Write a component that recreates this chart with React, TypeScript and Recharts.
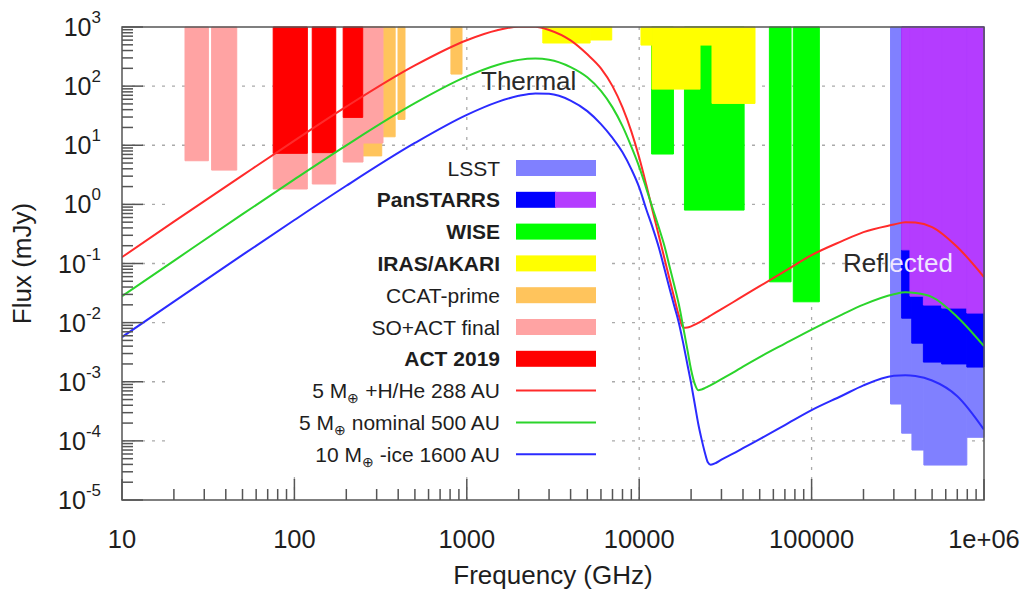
import React from 'react';
import { ComposedChart, Line, XAxis, YAxis, ReferenceArea, ReferenceLine } from 'recharts';

// model curves (GHz -> mJy)
const thermalFreq = [
  10, 20, 50, 100, 200, 500, 1000, 1500, 2000, 2500, 3000, 4000, 5000, 6000, 7000, 8000, 9000, 10000,
  11000, 12000, 13000, 14000, 15000, 16000, 17000, 18000, 19000, 20000, 21000, 22000, 23000, 24000,
  25000, 26000, 28000, 30000, 35000, 40000, 50000, 70000, 100000, 150000, 200000, 300000, 350000, 400000,
  500000, 700000, 1000000,
];
const fluxHHe = [
  0.128, 0.51, 3.1, 12, 45, 224, 597, 880, 1010, 1010, 890, 593, 345, 200, 100, 43.6, 17.2, 6.2,
  2.12, 0.75, 0.295, 0.123, 0.054, 0.0255, 0.013, 0.0082, 0.00826, 0.00865, 0.00922, 0.00989, 0.01065, 0.01146,
  0.0123, 0.01319, 0.015, 0.0169, 0.0221, 0.028, 0.0413, 0.0743, 0.1387, 0.239, 0.34, 0.455, 0.5, 0.492,
  0.413, 0.19, 0.059,
];
const fluxNominal = [
  0.028, 0.111, 0.683, 2.65, 9.97, 51.5, 146, 228, 278, 292, 280, 210, 141, 83, 43.7, 21.1, 9.5, 4.31,
  1.85, 0.836, 0.406, 0.2, 0.0889, 0.042, 0.02, 0.0084, 0.0036, 0.0016, 0.00092, 0.00072, 0.000741, 0.00078,
  0.000827, 0.000875, 0.000984, 0.001106, 0.001425, 0.0018, 0.00261, 0.00441, 0.00762, 0.01365, 0.0201, 0.0301, 0.0325, 0.0316,
  0.027, 0.0125, 0.004,
];
const fluxIce = [
  0.0057, 0.0227, 0.1395, 0.5435, 2.063, 10.93, 32.7, 53.7, 68.5, 75.3, 74, 57, 37.8, 22.8, 13.3, 7.6, 3.95, 1.94,
  0.82, 0.393, 0.187, 0.082, 0.0376, 0.0188, 0.0098, 0.0045, 0.00202, 0.00094, 0.00042, 0.000195, 0.000107, 0.0000644,
  0.0000436, 0.0000396, 0.0000427, 0.0000481, 0.0000607, 0.0000752, 0.000107, 0.000185, 0.000331, 0.00058, 0.00087, 0.00126, 0.00129, 0.00125,
  0.00105, 0.00057, 0.000155,
];

// survey sensitivity bands: low edge, high edge (GHz), flux limit (mJy); each band reaches the top
const lsstLo = [287000, 333000, 382000, 448000, 795000];
const lsstHi = [333000, 382000, 448000, 795000, 1000000];
const lsstFlux = [4.2e-4, 1.35e-4, 7.0e-5, 3.9e-5, 1.15e-4];

const psDeepLo = [333000, 381000, 445000, 568000, 795000];
const psDeepHi = [381000, 445000, 568000, 795000, 1000000];
const psDeepFlux = [0.0119, 0.0045, 0.00215, 0.002, 0.00177];

const ps3piLo = [333000, 372000, 445000, 568000, 795000];
const ps3piHi = [372000, 445000, 568000, 795000, 1000000];
const ps3piFlux = [0.17, 0.028, 0.0198, 0.0176, 0.0145];

const wiseLo = [11800, 18300, 56900, 78300];
const wiseHi = [15800, 40600, 76000, 110900];
const wiseFlux = [7.1, 0.8, 0.049, 0.0225];

const irasLo = [2760, 5190, 10240, 11870, 22530, 26440];
const irasHi = [5190, 6930, 11870, 22530, 26440, 46960];
const irasFlux = [536, 603, 495, 89, 495, 51];

const ccatLo = [246, 327, 399, 809];
const ccatHi = [321, 384, 438, 938];
const ccatFlux = [6.6, 13.9, 27.4, 160];

const soLo = [23.2, 33.1, 75.4, 127, 192, 250];
const soHi = [31.7, 46.3, 118.8, 173.6, 250, 326.5];
const soFlux = [5.47, 3.8, 1.82, 2.21, 5.2, 10.9];

const actLo = [75.4, 127, 192];
const actHi = [118.8, 173.6, 249];
const actFlux = [7.3, 7.5, 29.6];

const freqDecades = [10, 100, 1000, 10000, 100000, 1000000];
const freqTickLabels = ['10', '100', '1000', '10000', '100000', '1e+06'];
const fluxDecades = [1e-5, 1e-4, 1e-3, 1e-2, 1e-1, 1, 10, 100, 1000];
const fluxTickExponents = ['-5', '-4', '-3', '-2', '-1', '0', '1', '2', '3'];

const FONT = '"Liberation Sans", Arial, Helvetica, sans-serif';
const AXIS = '#555';
const TEXT = '#1e1e1e';
const GRID = '#aaa';

const COLORS = {
  lsst: '#8080ff',
  psDeep: '#0000ff',
  ps3pi: '#b43cff',
  wise: '#00ff00',
  iras: '#ffff00',
  ccat: '#ffc45c',
  so: '#ffa3a3',
  act: '#ff0000',
  hhe: '#ff2b2b',
  nominal: '#2bd42b',
  ice: '#2b2bff',
};

// drawn bottom to top
const bandGroups = [
  { id: 'lsst', lo: lsstLo, hi: lsstHi, flux: lsstFlux, color: COLORS.lsst },
  { id: 'psdeep', lo: psDeepLo, hi: psDeepHi, flux: psDeepFlux, color: COLORS.psDeep },
  { id: 'ps3pi', lo: ps3piLo, hi: ps3piHi, flux: ps3piFlux, color: COLORS.ps3pi },
  { id: 'wise', lo: wiseLo, hi: wiseHi, flux: wiseFlux, color: COLORS.wise },
  { id: 'iras', lo: irasLo, hi: irasHi, flux: irasFlux, color: COLORS.iras },
  { id: 'ccat', lo: ccatLo, hi: ccatHi, flux: ccatFlux, color: COLORS.ccat },
  { id: 'so', lo: soLo, hi: soHi, flux: soFlux, color: COLORS.so },
  { id: 'act', lo: actLo, hi: actHi, flux: actFlux, color: COLORS.act },
];

const legendBands = [
  { label: 'LSST', bold: false, fills: [COLORS.lsst] },
  { label: 'PanSTARRS', bold: true, fills: [COLORS.psDeep, COLORS.ps3pi] },
  { label: 'WISE', bold: true, fills: [COLORS.wise] },
  { label: 'IRAS/AKARI', bold: true, fills: [COLORS.iras] },
  { label: 'CCAT-prime', bold: false, fills: [COLORS.ccat] },
  { label: 'SO+ACT final', bold: false, fills: [COLORS.so] },
  { label: 'ACT 2019', bold: true, fills: [COLORS.act] },
];
const legendLines = [
  { pre: '5 M', post: ' +H/He 288 AU', color: COLORS.hhe },
  { pre: '5 M', post: ' nominal 500 AU', color: COLORS.nominal },
  { pre: '10 M', post: ' -ice 1600 AU', color: COLORS.ice },
];

const withMinors = (decades: number[]) =>
  decades.flatMap((d, i) => (i === decades.length - 1 ? [d] : [1, 2, 3, 4, 5, 6, 7, 8, 9].map((m) => m * d)));
const freqTicks = withMinors(freqDecades);
const fluxTicks = withMinors(fluxDecades);

const isDecade = (v: number) => {
  const l = Math.log10(v);
  return Math.abs(l - Math.round(l)) < 1e-6;
};

const BottomTick = ({ x, y, payload }: any) => {
  const v = payload.value;
  const major = isDecade(v);
  return (
    <g>
      <line x1={x} y1={y} x2={x} y2={y - (major ? 21 : 11)} stroke={AXIS} strokeWidth={1.5} />
      {major && (
        <text x={x} y={y + 48} textAnchor="middle" fontSize={25.5} fill={TEXT} fontFamily={FONT}>
          {freqTickLabels[Math.round(Math.log10(v)) - 1]}
        </text>
      )}
    </g>
  );
};

const TopTick = ({ x, y, payload }: any) => (
  <line x1={x} y1={y} x2={x} y2={y + (isDecade(payload.value) ? 21 : 11)} stroke={AXIS} strokeWidth={1.5} />
);

const LeftTick = ({ x, y, payload }: any) => {
  const v = payload.value;
  const major = isDecade(v);
  return (
    <g>
      <line x1={x} y1={y} x2={x + (major ? 21 : 11)} y2={y} stroke={AXIS} strokeWidth={1.5} />
      {major && (
        <text x={x - 21} y={y + 9} textAnchor="end" fontSize={25} fill={TEXT} fontFamily={FONT}>
          <tspan>10</tspan>
          <tspan dy={-13} fontSize={17}>
            {fluxTickExponents[Math.round(Math.log10(v)) + 5]}
          </tspan>
        </text>
      )}
    </g>
  );
};

const RightTick = ({ x, y, payload }: any) => (
  <line x1={x} y1={y} x2={x - (isDecade(payload.value) ? 21 : 11)} y2={y} stroke={AXIS} strokeWidth={1.5} />
);

const Overlay = () => {
  const rowY = (i: number) => 168 + i * 31.8;
  return (
    <svg
      width={1025}
      height={596}
      style={{ position: 'absolute', left: 0, top: 0, pointerEvents: 'none' }}
      fontFamily={FONT}
    >
      <text x={553} y={584} textAnchor="middle" fontSize={26} fill={TEXT}>
        Frequency (GHz)
      </text>
      <text x={31} y={263.5} textAnchor="middle" fontSize={26} fill={TEXT} transform="rotate(-90 31 263.5)">
        Flux (mJy)
      </text>
      <text x={481} y={90} fontSize={26} fill="#2a2a2a">
        Thermal
      </text>
      <text x={843} y={272} fontSize={26}>
        <tspan fill="#2a2a2a">Refl</tspan>
        <tspan fill="#efe6ff">ected</tspan>
      </text>

      {legendBands.map((e, i) => (
        <g key={e.label}>
          <text x={500} y={rowY(i) + 7.5} textAnchor="end" fontSize={21} fontWeight={e.bold ? 'bold' : 'normal'} fill={TEXT}>
            {e.label}
          </text>
          {e.fills.map((c, k) => (
            <rect
              key={c}
              x={516 + (k * 80) / e.fills.length + (e.fills.length > 1 && k > 0 ? -1 : 0)}
              y={rowY(i) - 8}
              width={80 / e.fills.length + (e.fills.length > 1 && k > 0 ? 1 : 0)}
              height={16}
              fill={c}
            />
          ))}
        </g>
      ))}
      {legendLines.map((e, j) => {
        const y = rowY(legendBands.length + j);
        return (
          <g key={e.post}>
            <text x={500} y={y + 7.5} textAnchor="end" fontSize={21} fill={TEXT}>
              <tspan>{e.pre}</tspan>
              <tspan fontSize={14} dy={5}>
                ⊕
              </tspan>
              <tspan dy={-5}>{e.post}</tspan>
            </text>
            <line x1={516} x2={596} y1={y} y2={y} stroke={e.color} strokeWidth={2} />
          </g>
        );
      })}
    </svg>
  );
};

export default function App() {
  const rows = thermalFreq.map((f, i) => ({ f, hhe: fluxHHe[i], nominal: fluxNominal[i], ice: fluxIce[i] }));

  return (
    <div style={{ position: 'absolute', left: 0, top: 0, width: 1025, height: 596, background: '#fff' }}>
      <ComposedChart width={1025} height={596} data={rows} margin={{ top: 27, right: 41, bottom: 0, left: 0 }}>
        <XAxis
          dataKey="f"
          type="number"
          scale="log"
          domain={[10, 1e6]}
          allowDataOverflow
          ticks={freqTicks}
          interval={0}
          tick={(p: any) => <BottomTick {...p} />}
          tickLine={false}
          axisLine={false}
          tickSize={0}
          tickMargin={0}
          height={96}
          zIndex={-50}
        />
        <XAxis
          xAxisId="top"
          orientation="top"
          dataKey="f"
          type="number"
          scale="log"
          domain={[10, 1e6]}
          allowDataOverflow
          ticks={freqTicks}
          interval={0}
          tick={(p: any) => <TopTick {...p} />}
          tickLine={false}
          axisLine={false}
          tickSize={0}
          tickMargin={0}
          height={0}
          zIndex={-50}
        />
        <YAxis
          type="number"
          scale="log"
          domain={[1e-5, 1e3]}
          allowDataOverflow
          ticks={fluxTicks}
          interval={0}
          tick={(p: any) => <LeftTick {...p} />}
          tickLine={false}
          axisLine={false}
          tickSize={0}
          tickMargin={0}
          width={122}
          zIndex={-50}
        />
        <YAxis
          yAxisId="right"
          orientation="right"
          type="number"
          scale="log"
          domain={[1e-5, 1e3]}
          allowDataOverflow
          ticks={fluxTicks}
          interval={0}
          tick={(p: any) => <RightTick {...p} />}
          tickLine={false}
          axisLine={false}
          tickSize={0}
          tickMargin={0}
          width={0}
          zIndex={-50}
        />

        {freqDecades.slice(1, -1).map((v) => (
          <ReferenceLine key={'gx' + v} x={v} stroke={GRID} strokeWidth={1.3} strokeDasharray="3 7" zIndex={-70} />
        ))}
        {fluxDecades.slice(1, -1).map((v) => (
          <ReferenceLine key={'gy' + v} y={v} stroke={GRID} strokeWidth={1.3} strokeDasharray="3 7" zIndex={-70} />
        ))}

        {/* blank behind the key */}
        <ReferenceArea x1={17.8} x2={6500} y1={2.95e-5} y2={8.3} fill="#fff" fillOpacity={1} stroke="none" zIndex={-60} />

        {bandGroups.map((g, gi) =>
          g.lo.map((lo, i) => (
            <ReferenceArea
              key={g.id + i}
              x1={lo}
              x2={g.hi[i]}
              y1={g.flux[i]}
              y2={1000}
              fill={g.color}
              fillOpacity={1}
              stroke={g.color}
              strokeWidth={1}
              ifOverflow="visible"
              zIndex={10 + gi}
            />
          ))
        )}

        <Line dataKey="hhe" type="monotone" stroke={COLORS.hhe} strokeWidth={2} dot={false} isAnimationActive={false} zIndex={400} />
        <Line dataKey="nominal" type="monotone" stroke={COLORS.nominal} strokeWidth={2} dot={false} isAnimationActive={false} zIndex={400} />
        <Line dataKey="ice" type="monotone" stroke={COLORS.ice} strokeWidth={2} dot={false} isAnimationActive={false} zIndex={400} />

        <ReferenceArea x1={10} x2={1e6} y1={1e-5} y2={1e3} fill="none" stroke={AXIS} strokeWidth={1.5} ifOverflow="visible" zIndex={500} />
      </ComposedChart>
      <Overlay />
    </div>
  );
}
